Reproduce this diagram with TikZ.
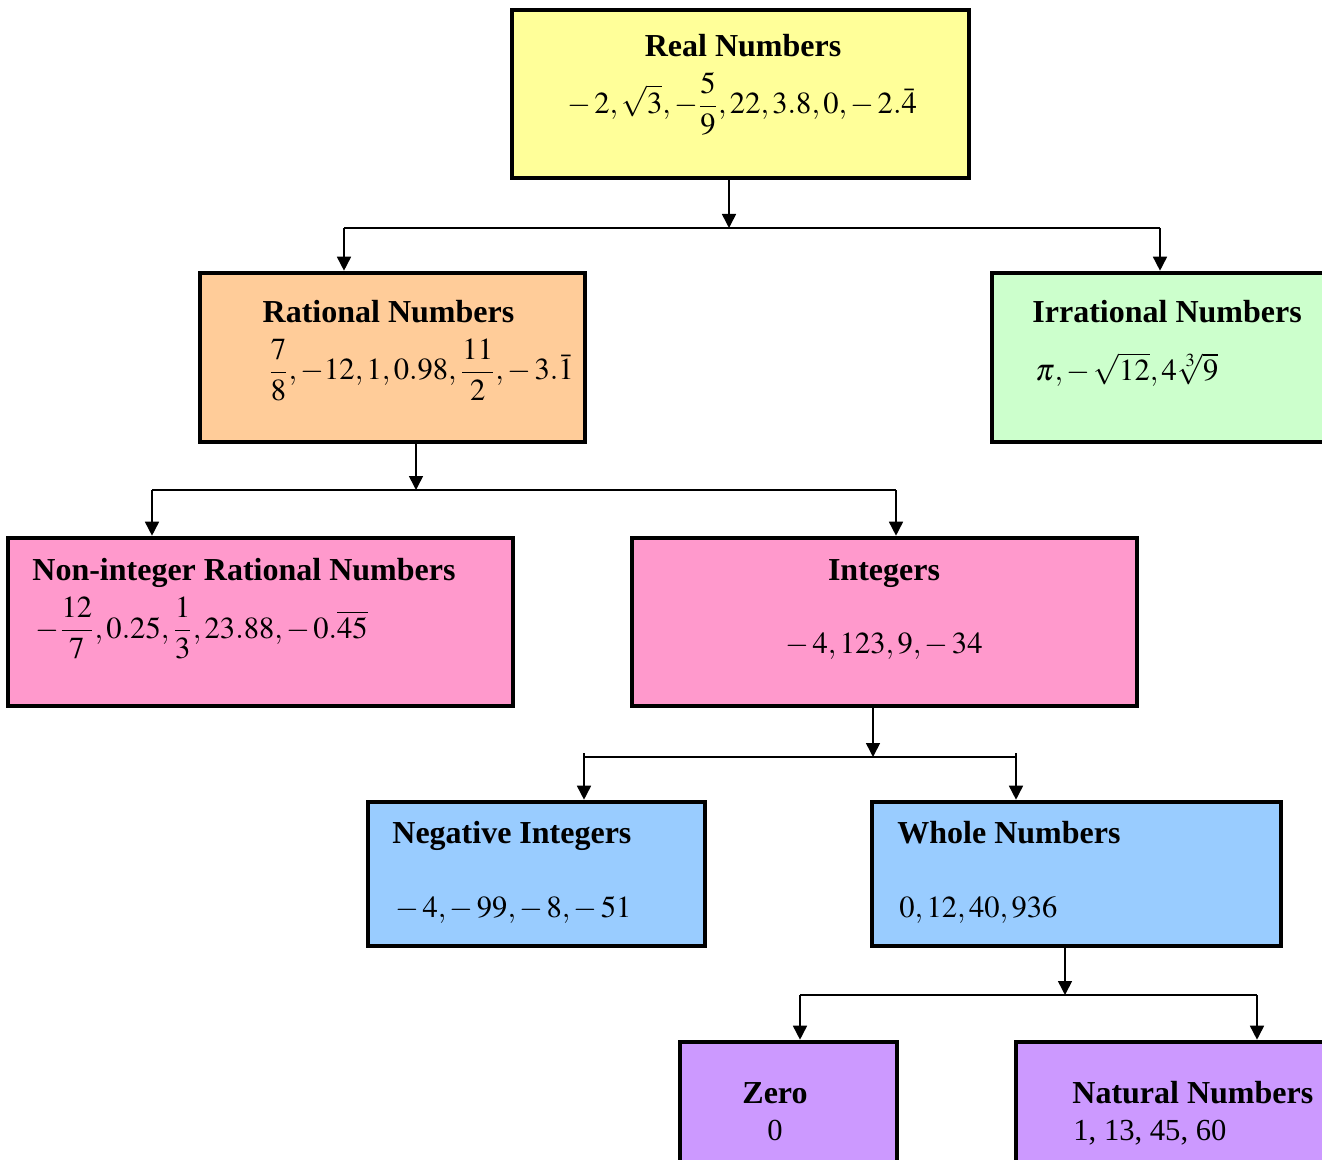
\documentclass[tikz,border=0pt]{standalone}
\usepackage{amsmath}
\usepackage{mathptmx}
\usepackage{fontspec}
\setmainfont{Liberation Serif}
\usetikzlibrary{positioning,arrows.meta}

\definecolor{realfill}{HTML}{FFFF99}
\definecolor{ratfill}{HTML}{FFCC99}
\definecolor{irrfill}{HTML}{CCFFCC}
\definecolor{intfill}{HTML}{FF99CC}
\definecolor{wholefill}{HTML}{99CCFF}
\definecolor{natfill}{HTML}{CC99FF}

\begin{document}
\begin{tikzpicture}[
        x=0.5pt, y=-0.5pt,
        box/.style={rectangle, draw=black, line width=2.3pt, inner sep=0pt},
        head/.style={font=\fontsize{16}{19}\selectfont\bfseries, inner sep=0pt},
        vals/.style={font=\fontsize{15.3}{18}\selectfont, inner sep=0pt},
        link/.style={-{Triangle[length=7pt,width=7pt]}, line width=0.8pt},
        bar/.style={line width=0.8pt}
    ]
    \useasboundingbox (0,0) rectangle (1322,1160);
    \clip (0,0) rectangle (1322,1160);

    % Boxes
    \node[box, fill=realfill, minimum width=228.5pt, minimum height=84pt] (real) at (740.5,94) {};
    \node[box, fill=ratfill, minimum width=192.5pt, minimum height=84.5pt] (rat) at (392.5,357.5) {};
    \node[box, fill=irrfill, minimum width=176.5pt, minimum height=84.5pt] (irr) at (1168.5,357.5) {};
    \node[box, fill=intfill, minimum width=252.5pt, minimum height=84pt] (nonint) at (260.5,622) {};
    \node[box, fill=intfill, minimum width=252.5pt, minimum height=84pt] (int) at (884.5,622) {};
    \node[box, fill=wholefill, minimum width=168.5pt, minimum height=72pt] (neg) at (536.5,874) {};
    \node[box, fill=wholefill, minimum width=204.5pt, minimum height=72pt] (whole) at (1076.5,874) {};
    \node[box, fill=natfill, minimum width=108.5pt, minimum height=69pt] (zero) at (788.5,1111) {};
    \node[box, fill=natfill, minimum width=164.5pt, minimum height=69pt] (nat) at (1180.5,1111) {};

    % Texts
    \node[head, anchor=base] (realT) at (743,57) {Real Numbers};
    \node[vals, anchor=base] (realV) at (742,114) {$\displaystyle -\,2, \sqrt{3}, -\frac{5}{9}, 22, 3.8, 0, -\,2.\bar{4}$};
    \node[head, anchor=base] (ratT) at (388.5,323) {Rational Numbers};
    \node[vals, anchor=base west] (ratV) at (268,380) {$\displaystyle \frac{7}{8}, -12, 1, 0.98, \frac{11}{2}, -\,3.\bar{1}$};
    \node[head, anchor=base west] (irrT) at (1032,323) {Irrational Numbers};
    \node[vals, anchor=base west] (irrV) at (1035,381) {$\pi, -\,\sqrt{12}, 4\sqrt[3]{9}$};
    \node[head, anchor=base west] (nonintT) at (32,580) {Non-integer Rational Numbers};
    \node[vals, anchor=base west] (nonintV) at (35,638) {$\displaystyle -\frac{12}{7}, 0.25, \frac{1}{3}, 23.88, -\,0.\overline{45}$};
    \node[head, anchor=base] (intT) at (884,580) {Integers};
    \node[vals, anchor=base] (intV) at (884,653) {$-\,4, 123, 9, -\,34$};
    \node[head, anchor=base west] (negT) at (392,843) {Negative Integers};
    \node[vals, anchor=base west] (negV) at (395,917) {$-\,4, -\,99, -\,8, -\,51$};
    \node[head, anchor=base west] (wholeT) at (897,843) {Whole Numbers};
    \node[vals, anchor=base west] (wholeV) at (899,917) {$0, 12, 40, 936$};
    \node[head, anchor=base] (zeroT) at (775,1103) {Zero};
    \node[vals, anchor=base] (zeroV) at (775,1140) {0};
    \node[head, anchor=base west] (natT) at (1072,1103) {Natural Numbers};
    \node[vals, anchor=base west] (natV) at (1073,1140) {1, 13, 45, 60};

    % Real -> Rational / Irrational
    \coordinate (j1) at (729,228);
    \coordinate (j1l) at (344,228);
    \coordinate (j1r) at (1160,228);
    \draw[link] (real.south -| j1) -- (j1);
    \draw[bar] (j1l) -- (j1r);
    \draw[link] (j1l) -- (j1l |- rat.north);
    \draw[link] (j1r) -- (j1r |- irr.north);

    % Rational -> Non-integer / Integers
    \coordinate (j2) at (416,490);
    \coordinate (j2l) at (152,490);
    \coordinate (j2r) at (896,490);
    \draw[link] (rat.south -| j2) -- (j2);
    \draw[bar] (j2l) -- (j2r);
    \draw[link] (j2l) -- (j2l |- nonint.north);
    \draw[link] (j2r) -- (j2r |- int.north);

    % Integers -> Negative / Whole
    \coordinate (j3) at (873,757);
    \coordinate (j3l) at (584,753);
    \coordinate (j3r) at (1016,753);
    \draw[link] (int.south -| j3) -- (j3);
    \draw[bar] (j3l |- j3) -- (j3r |- j3);
    \draw[link] (j3l) -- (j3l |- neg.north);
    \draw[link] (j3r) -- (j3r |- whole.north);

    % Whole -> Zero / Natural
    \coordinate (j4) at (1065,995);
    \coordinate (j4l) at (800,995);
    \coordinate (j4r) at (1257,995);
    \draw[link] (whole.south -| j4) -- (j4);
    \draw[bar] (j4l) -- (j4r);
    \draw[link] (j4l) -- (j4l |- zero.north);
    \draw[link] (j4r) -- (j4r |- nat.north);
\end{tikzpicture}
\end{document}
